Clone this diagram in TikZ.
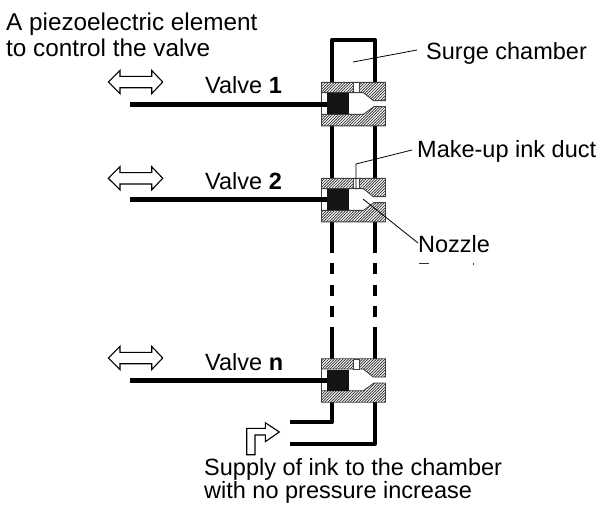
\documentclass[tikz,border=0pt]{standalone}
\usepackage{fontspec}
\setmainfont{Liberation Sans}
\usetikzlibrary{patterns}
\pgfdeclarepatternformonly{finehatch}{\pgfqpoint{-1pt}{-1pt}}{\pgfqpoint{4pt}{4pt}}{\pgfqpoint{2.8pt}{2.8pt}}{%
  \pgfsetlinewidth{0.7pt}\pgfpathmoveto{\pgfqpoint{-0.2pt}{-0.2pt}}\pgfpathlineto{\pgfqpoint{3pt}{3pt}}\pgfusepath{stroke}}
\tikzset{
  x=1pt,y=-1pt,
  pipe/.style={line width=4.3pt,line cap=butt},
  bentpipe/.style={line width=4.3pt,line join=round},
  rod/.style={line width=5pt},
  leader/.style={line width=0.8pt},
  label/.style={inner sep=0pt,anchor=base west,font=\fontsize{23.5}{26}\selectfont},
  biglabel/.style={inner sep=0pt,anchor=base west,font=\fontsize{24.3}{27}\selectfont},
  arrowshape/.style={draw=black,fill=white,line width=1.1pt,line join=miter},
  hatchfill/.style={pattern=finehatch,pattern color=black!80},
  hatchedge/.style={draw=black!75,line width=0.9pt}
}
\newcommand{\valveblock}[1]{%
  \begin{scope}[shift={(0,#1)}]
    \fill[white] (321.5,0) rectangle (385.5,43.5);
    \path[hatchfill,hatchedge] (321.5,0) -- (385.5,0) -- (385.5,18.3) -- (373.3,18.3) -- (363.3,10.3) -- (321.5,10.3) -- cycle;
    \path[hatchfill,hatchedge] (321.5,43.5) -- (385.5,43.5) -- (385.5,24.3) -- (374,24.3) -- (363.5,32) -- (321.5,32) -- cycle;
    \draw[hatchedge] (321.5,10.3) -- (321.5,32);
    \path[fill=white,hatchedge] (353.7,0.4) rectangle (359,10.6);
    \fill[black!92] (326.7,11) rectangle (349,32);
  \end{scope}}
\begin{document}
\begin{tikzpicture}
\useasboundingbox (0,0) rectangle (599,506);
\fill[white] (0,0) rectangle (599,506);
% chamber and pipes
\draw[bentpipe] (332,82.5) -- (332,40) -- (375,40) -- (375,82.5);
\foreach \a/\b in {125/179,221/252.7,263.3/274,285/295.7,306/317,327.3/359}{
  \draw[pipe] (332,\a) -- (332,\b);
  \draw[pipe] (375,\a) -- (375,\b);
}
\draw[bentpipe] (332,401) -- (332,422.3) -- (290,422.3);
\draw[bentpipe] (375,401) -- (375,443.7) -- (290,443.7);
% valves
\valveblock{82.3}
\valveblock{178.3}
\valveblock{358.7}
% rods
\coordinate (r1) at (130,104.4);
\coordinate (r2) at (130,199.6);
\coordinate (r3) at (130,380.4);
\draw[rod] (r1) -- (326.7,104.4);
\draw[rod] (r2) -- (326.7,199.6);
\draw[rod] (r3) -- (326.7,380.4);
% double arrows
\foreach \yy in {82,178.3,358}{
  \begin{scope}[shift={(0,\yy)}]
  \path[arrowshape] (108.3,0) -- (120,-11.6) -- (120,-5.7) -- (151.7,-5.7) -- (151.7,-11.6) -- (162.7,0) -- (151.7,11.6) -- (151.7,5.7) -- (120,5.7) -- (120,11.6) -- cycle;
  \end{scope}
}
% bent arrow
\path[arrowshape] (246.7,454.7) -- (246.7,428.3) -- (265.3,428.3) -- (265.3,422.7) -- (279.3,432) -- (265.3,441.7) -- (265.3,435) -- (255,435) -- (255,454.7) -- cycle;
% leaders
\node[label] (surge) at (426,59) {Surge chamber};
\coordinate (s1) at (353,62);
\draw[leader] (s1) -- (417,50);
\node[label] (duct) at (417,157) {Make-up ink duct};
\coordinate (d1) at (356,189);
\coordinate (d2) at (356,164);
\draw[leader] (d1) -- (d2) -- (412,150);
\node[label] (nozzle) at (418,252.7) {Nozzle};
\coordinate (n1) at (363,199);
\draw[leader] (n1) -- (418,243);
% tops of the cut-off line under Nozzle
\fill[black!80] (418.5,263) rectangle (428.5,264.4);
\fill[black!80] (472.5,263) rectangle (474.3,265);
% text
\node[biglabel] (t1) at (6,30.5) {A piezoelectric element};
\node[biglabel] (t2) at (6,56.7) {to control the valve};
\node[label] (v1) at (205,93) {Valve \textbf{1}};
\node[label] (v2) at (205,189) {Valve \textbf{2}};
\node[label] (vn) at (205,370.7) {Valve \textbf{n}};
\node[label] (s1t) at (204,475) {Supply of ink to the chamber};
\node[label] (s2t) at (204,498) {with no pressure increase};
\end{tikzpicture}
\end{document}
